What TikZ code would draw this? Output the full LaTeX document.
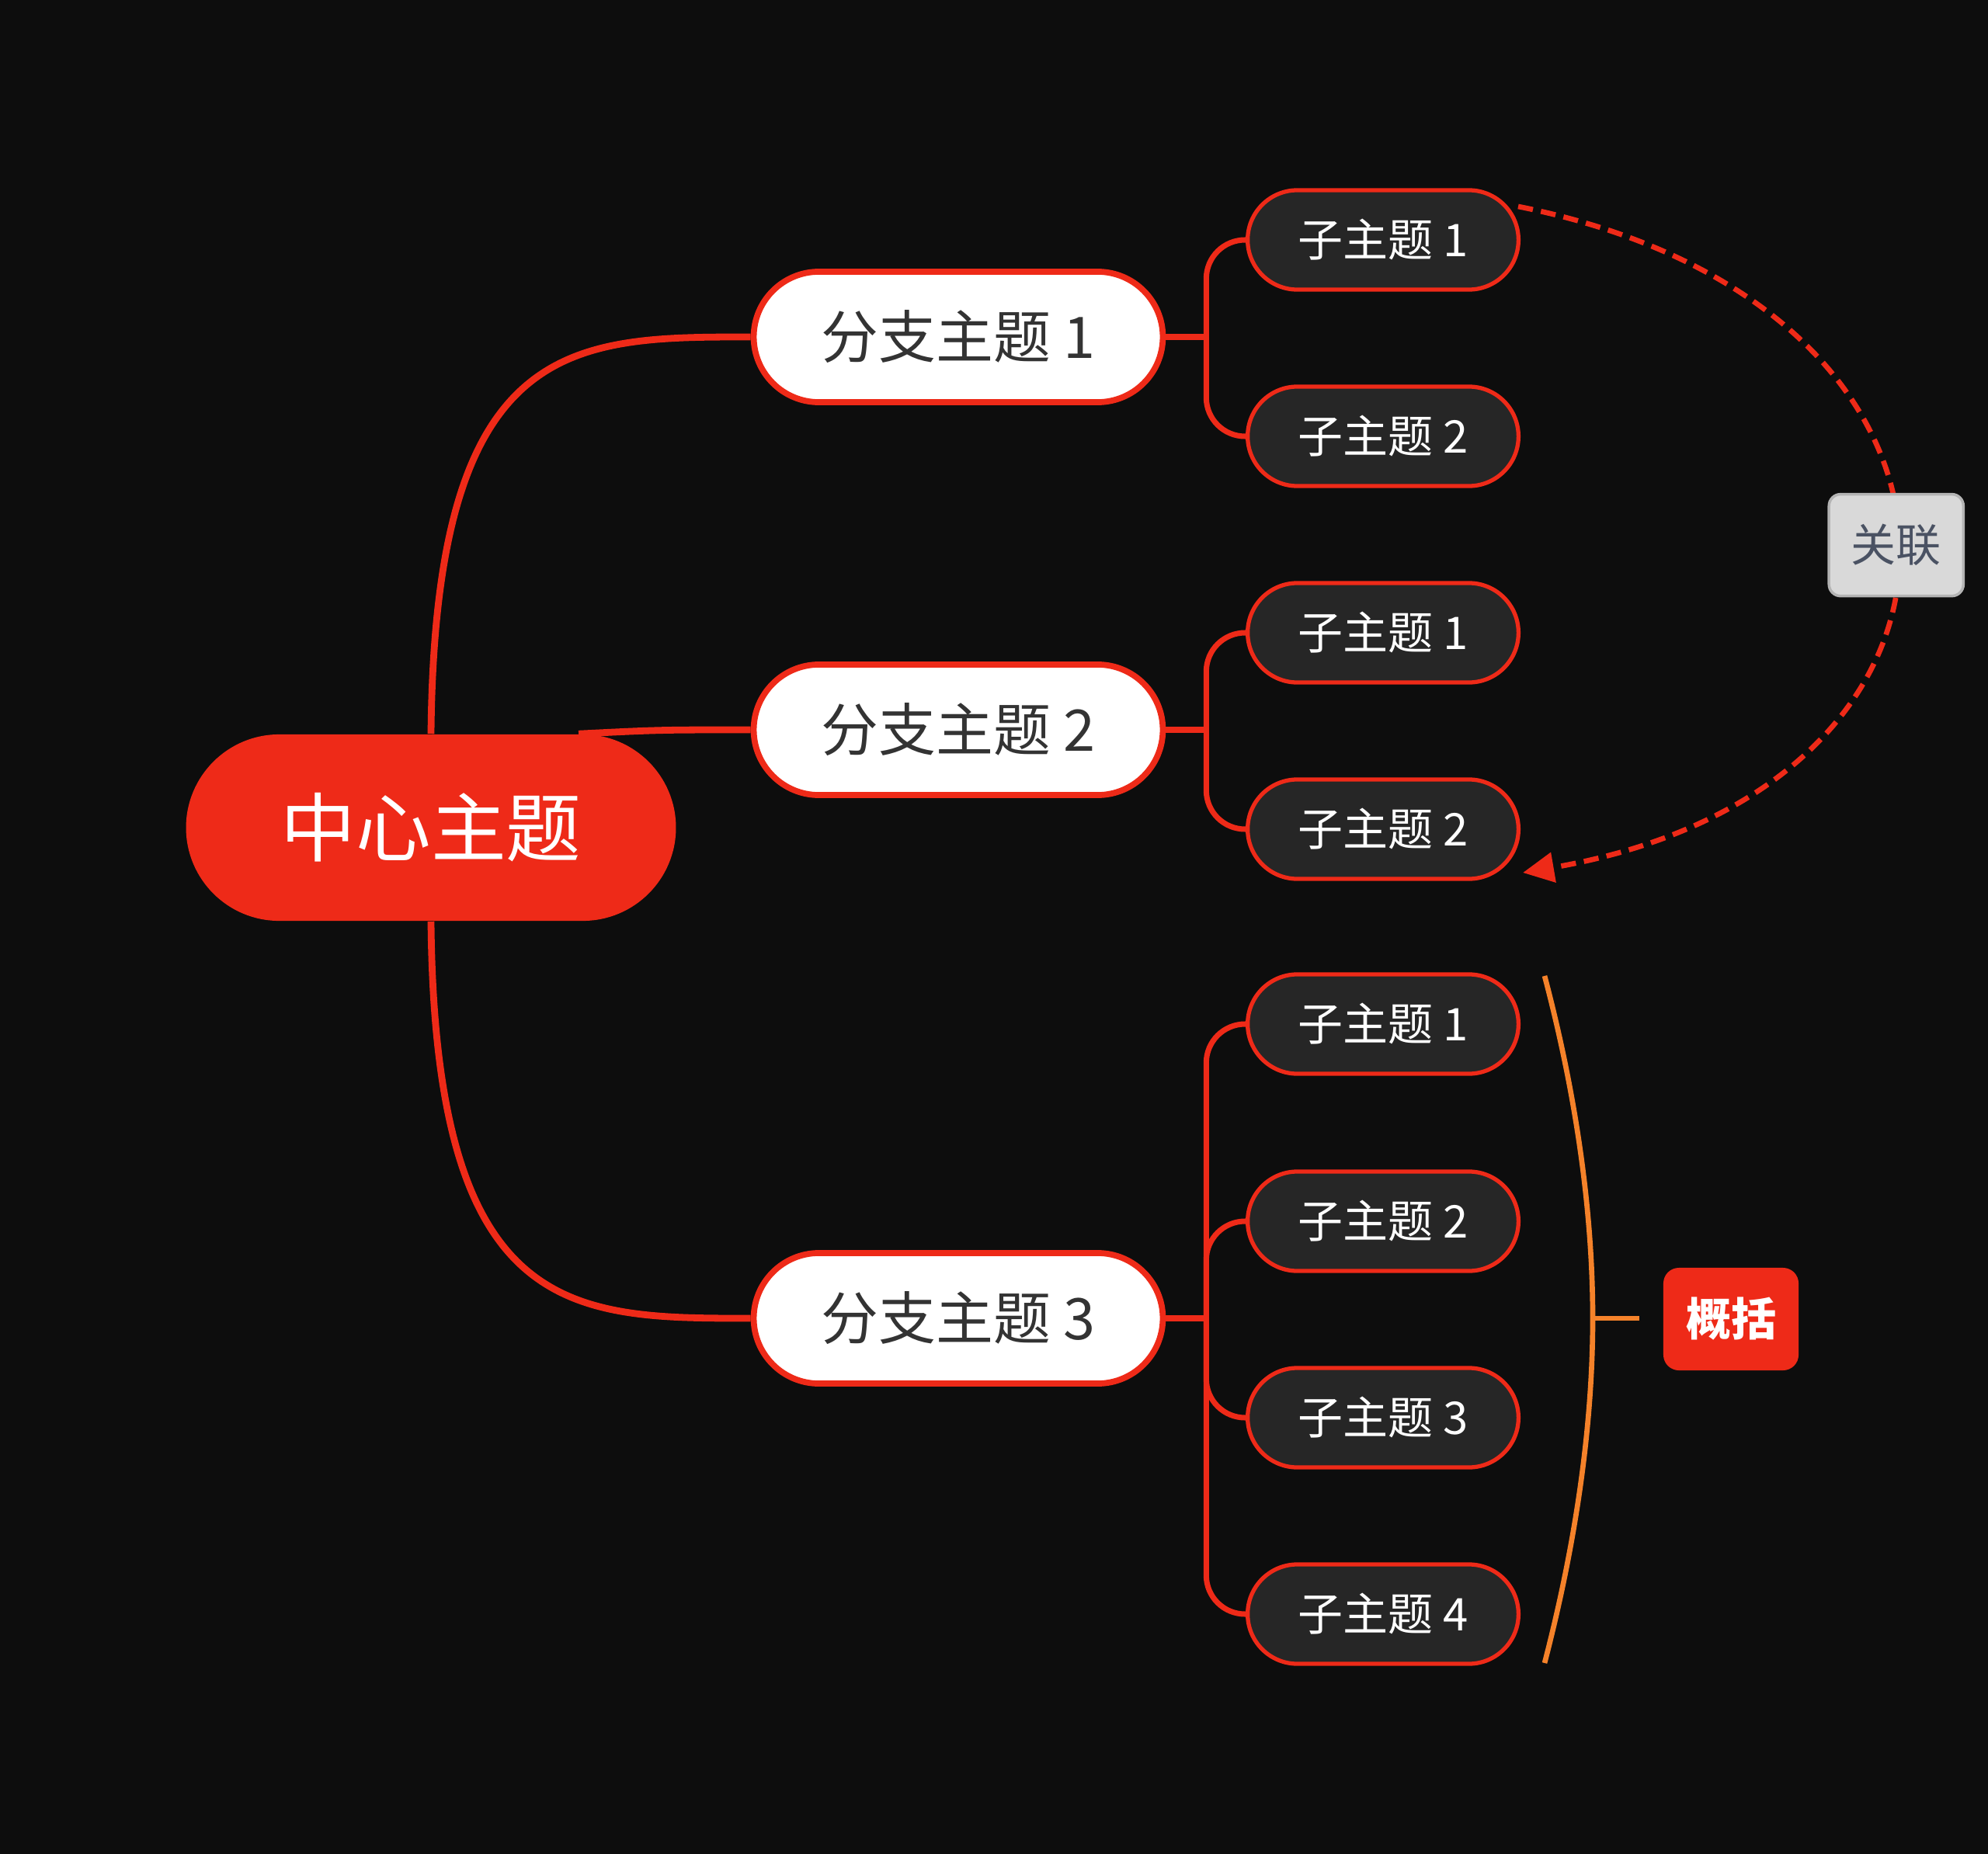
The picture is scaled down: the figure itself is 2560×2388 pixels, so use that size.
\documentclass[tikz,border=0pt]{standalone}
\usepackage{fontspec}
\setmainfont{Noto Sans CJK SC}
\usetikzlibrary{shapes.misc,arrows.meta}
\definecolor{bgcol}{HTML}{0D0D0D}
\definecolor{mred}{HTML}{EE2A18}
\definecolor{subfill}{HTML}{262626}
\definecolor{morange}{HTML}{F5822A}
\definecolor{relfill}{HTML}{D9D9D9}
\definecolor{reldraw}{HTML}{B4B4B4}
\definecolor{reltext}{HTML}{4A5263}
\definecolor{darktext}{HTML}{333333}

\begin{document}
\begin{tikzpicture}[x=0.01cm,y=-0.01cm,
    ctr/.style={rounded rectangle, fill=mred, text=white, minimum width=6.54cm, minimum height=2.4cm, font=\fontsize{27.5}{32}\selectfont},
    branch/.style={rounded rectangle, draw=mred, line width=2.2pt, fill=white, text=darktext, minimum width=5.5cm, minimum height=1.68cm, font=\fontsize{21}{25}\selectfont},
    sub/.style={rounded rectangle, draw=mred, line width=1.5pt, fill=subfill, text=white, minimum width=3.72cm, minimum height=1.28cm, font=\fontsize{16.5}{19}\selectfont},
    link/.style={draw=mred, line width=2.5pt},
    sublink/.style={draw=mred, line width=2pt, rounded corners=0.5cm},
    rel/.style={draw=mred, line width=1.9pt, dash pattern=on 5.5pt off 3pt, -{Triangle[length=0.4cm,width=0.38cm]}},
    relbox/.style={fill=relfill, draw=reldraw, line width=1pt, rounded corners=0.15cm, text=reltext, solid, minimum width=1.73cm, minimum height=1.31cm, font=\fontsize{16.5}{19}\selectfont},
    brace/.style={draw=morange, line width=1.9pt},
    sumbox/.style={fill=mred, rounded corners=0.2cm, text=white, minimum width=1.74cm, minimum height=1.32cm, font=\fontsize{16.5}{19}\selectfont\bfseries}]
    \path[use as bounding box, fill=bgcol] (0,0) rectangle (2560,2388);

    \node[ctr] (ctr) at (555,1066) {中心主题};
    \node[branch] (b1) at (1234,434) {分支主题 1};
    \node[branch] (b2) at (1234,940) {分支主题 2};
    \node[branch] (b3) at (1234,1698) {分支主题 3};
    \node[sub] (s11) at (1781,309) {子主题 1};
    \node[sub] (s12) at (1781,562) {子主题 2};
    \node[sub] (s21) at (1781,815) {子主题 1};
    \node[sub] (s22) at (1781,1068) {子主题 2};
    \node[sub] (s31) at (1781,1319) {子主题 1};
    \node[sub] (s32) at (1781,1573) {子主题 2};
    \node[sub] (s33) at (1781,1826) {子主题 3};
    \node[sub] (s34) at (1781,2079) {子主题 4};
    \node[sumbox] (sum) at (2229,1699) {概括};

    % centre to branches
    \draw[link] (ctr.north) .. controls (560,434) and (735,434) .. (b1.west);
    \draw[link] ([xshift=1.9cm]ctr.north) .. controls (850,940) .. (b2.west);
    \draw[link] (ctr.south) .. controls (560,1698) and (735,1698) .. (b3.west);

    % branches to sub topics
    \draw[sublink] (b1.east) -- ++(52,0) coordinate (j1);
    \draw[sublink] (b2.east) -- ++(52,0) coordinate (j2);
    \draw[sublink] (b3.east) -- ++(52,0) coordinate (j3);
    \draw[sublink] (j1) |- (s11.west);
    \draw[sublink] (j1) |- (s12.west);
    \draw[sublink] (j2) |- (s21.west);
    \draw[sublink] (j2) |- (s22.west);
    \draw[sublink] (j3) |- (s31.west);
    \draw[sublink] (j3) |- (s32.west);
    \draw[sublink] (j3) |- (s33.west);
    \draw[sublink] (j3) |- (s34.west);

    % relation
    \draw[rel] ([xshift=-0.03cm,yshift=0.43cm]s11.east) .. controls (2603,395) and (2603,1014) .. ([xshift=0.03cm,yshift=-0.56cm]s22.east)
        node[pos=0.5, relbox] (relname) {关联};

    % summary
    \coordinate (brtop) at (1989,1257);
    \coordinate (brmid) at (2051,1698);
    \coordinate (brbot) at (1989,2142);
    \draw[brace] (brtop) .. controls (2040,1450) and (2051,1600) .. (brmid) .. controls (2051,1796) and (2040,1946) .. (brbot);
    \draw[brace] (brmid) -- ++(60,0) coordinate (brtick);
\end{tikzpicture}
\end{document}
